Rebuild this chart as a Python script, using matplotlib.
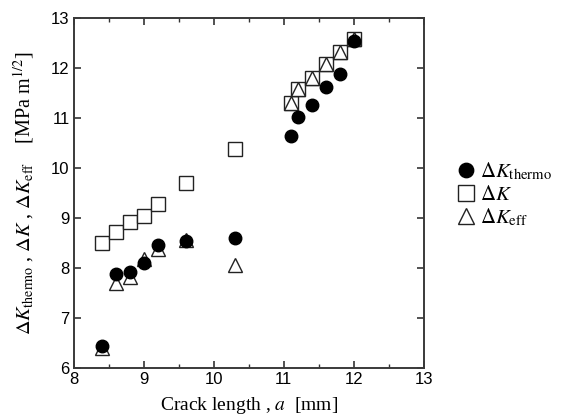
import matplotlib
matplotlib.use("Agg")
import matplotlib.pyplot as plt
from matplotlib.ticker import MultipleLocator

plt.rcParams['mathtext.fontset'] = 'stix'

# crack length [mm]
a_thermo = [8.4, 8.6, 8.8, 9.0, 9.2, 9.6, 10.3, 11.1, 11.2, 11.4, 11.6, 11.8, 12.0]
dK_thermo = [6.43, 7.87, 7.91, 8.09, 8.45, 8.53, 8.60, 10.63, 11.01, 11.26, 11.61, 11.87, 12.53]

a_dk = [8.4, 8.6, 8.8, 9.0, 9.2, 9.6, 10.3, 11.1, 11.2, 11.4, 11.6, 11.8, 12.0]
dK = [8.50, 8.71, 8.91, 9.03, 9.28, 9.69, 10.37, 11.29, 11.57, 11.80, 12.07, 12.32, 12.58]

a_eff = [8.4, 8.6, 8.8, 9.0, 9.2, 9.6, 10.3, 11.1, 11.2, 11.4, 11.6, 11.8, 12.0]
dK_eff = [6.40, 7.70, 7.82, 8.18, 8.38, 8.55, 8.06, 11.29, 11.57, 11.80, 12.07, 12.32, 12.58]

fig = plt.figure(figsize=(5.63, 4.18), dpi=100)
ax = fig.add_axes([0.131, 0.12, 0.622, 0.837])

ax.plot(a_dk, dK, linestyle='none', marker='s', markersize=9.5,
        markerfacecolor='white', markeredgecolor='#222222', markeredgewidth=1.0,
        label=r'$\Delta K$', zorder=2)
ax.plot(a_eff, dK_eff, linestyle='none', marker='^', markersize=9.5,
        markerfacecolor='white', markeredgecolor='#222222', markeredgewidth=1.0,
        label=r'$\Delta K_{\mathrm{eff}}$', zorder=3)
ax.plot(a_thermo, dK_thermo, linestyle='none', marker='o', markersize=9,
        markerfacecolor='black', markeredgecolor='black',
        label=r'$\Delta K_{\mathrm{thermo}}$', zorder=4)

ax.set_xlim(8, 13)
ax.set_ylim(6, 13)
ax.xaxis.set_major_locator(MultipleLocator(1))
ax.xaxis.set_minor_locator(MultipleLocator(0.5))
ax.yaxis.set_major_locator(MultipleLocator(1))

ax.tick_params(which='both', direction='in', top=True, right=True,
               labelsize=12, color='#333333')
ax.tick_params(which='major', length=5, width=1.2, pad=3)
ax.tick_params(which='minor', length=3, width=1.0)
for lab in ax.get_xticklabels() + ax.get_yticklabels():
    lab.set_family('Liberation Sans')
for s in ax.spines.values():
    s.set_linewidth(1.4)
    s.set_color('#3a3a3a')

ax.set_xlabel(r'Crack length , $a$  [mm]', family='Liberation Serif', fontsize=14, labelpad=6)
ax.set_ylabel(r'$\Delta K_{\mathrm{thermo}}$ , $\Delta K$ , $\Delta K_{\mathrm{eff}}$    [MPa m$^{1/2}$]',
              family='Liberation Serif', fontsize=14.5, labelpad=11)

h, l = ax.get_legend_handles_labels()
order = [2, 0, 1]
fig.legend([h[i] for i in order], [l[i] for i in order], loc='center left',
           bbox_to_anchor=(0.77, 0.535), frameon=False, fontsize=15,
           handletextpad=0.05, labelspacing=0.1, handlelength=1.3,
           markerscale=1.15)

fig.savefig('out.png', dpi=100)
